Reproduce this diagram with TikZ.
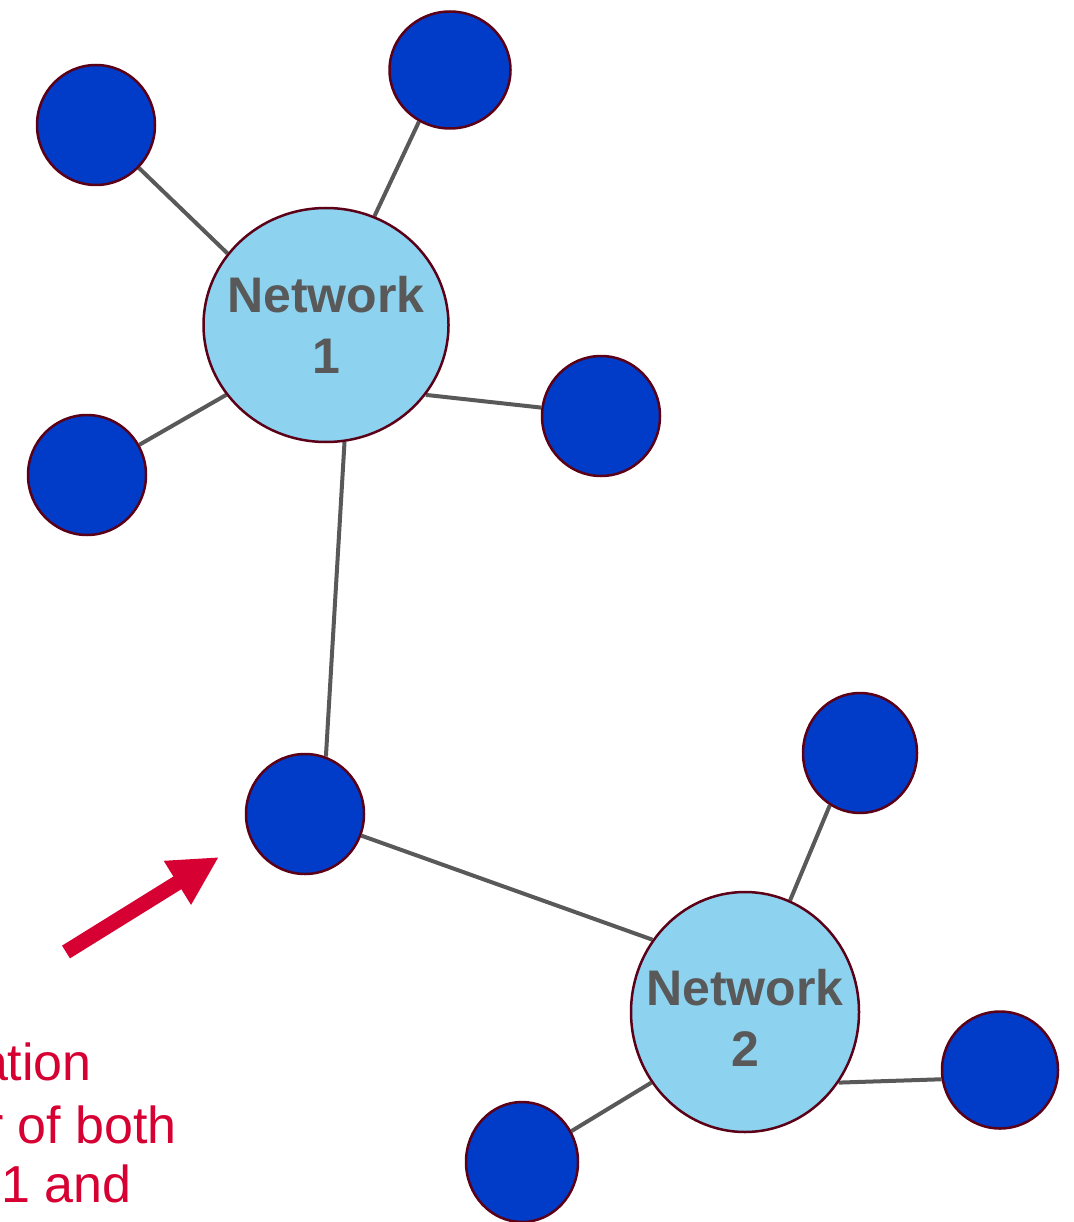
\documentclass[tikz,border=0pt]{standalone}
\usepackage{fontspec}
\setmainfont{Liberation Sans}
\usetikzlibrary{shapes.geometric,arrows.meta,backgrounds}
\definecolor{devblue}{HTML}{003CC8}
\definecolor{netblue}{HTML}{8DD3EF}
\definecolor{rim}{HTML}{5C0018}
\definecolor{wire}{HTML}{595959}
\definecolor{callout}{HTML}{D60032}
\tikzset{
  netnode/.style={ellipse, draw=rim, line width=2.5pt, fill=netblue, inner sep=0pt},
  netlabel/.style={font=\bfseries\fontsize{50}{61}\selectfont, text=wire, align=center, inner sep=0pt},
  devnode/.style={ellipse, draw=rim, line width=2.5pt, fill=devblue, inner sep=0pt,
    minimum width=118pt, minimum height=120pt},
  link/.style={draw=wire, line width=4pt},
  note/.style={font=\fontsize{52}{61}\selectfont, text=callout, inner sep=0pt, anchor=base east},
}
\begin{document}
\begin{tikzpicture}[x=1pt,y=-1pt]
\useasboundingbox (0,0) rectangle (1073,1222);

% network hubs
\node[netnode, minimum width=245pt, minimum height=234pt,
  label={[netlabel]center:Network\\1}] (n1) at (326,325) {};
\node[netnode, minimum width=228pt, minimum height=240pt,
  label={[netlabel,yshift=-6pt]center:Network\\2}] (n2) at (745,1012) {};

% stations
\node[devnode] (a) at (96,125) {};
\node[devnode, minimum width=121pt, minimum height=117pt] (b) at (450,70) {};
\node[devnode] (c) at (87,475) {};
\node[devnode] (d) at (601,416) {};
\node[devnode] (e) at (305,814) {};
\node[devnode, minimum width=114pt] (f) at (860,753) {};
\node[devnode, minimum width=116pt, minimum height=117pt] (g) at (1000,1070) {};
\node[devnode, minimum width=112pt] (h) at (522,1162) {};

% links
\begin{scope}[on background layer]
  \draw[link] (n1.144.8) -- (a.-45);
  \draw[link] (n1.66.7) -- (b.-121);
  \draw[link] (n1.215.9) -- (c.30.8);
  \draw[link] (n1.-35.3) -- (d.172);
  \draw[link] (n1.-81.3) -- (e.70.7);
  \draw[link] (e.-21) -- (n2.142.5);
  \draw[link] (n2.68.2) -- (f.-120.6);
  \draw[link] (n2.-37.3) -- (g.189);
  \draw[link] (n2.217) -- (h.32);
\end{scope}

% pointer to the shared station
\coordinate (tail) at (66,952);
\coordinate (tip) at (219,857);
\draw[callout, line width=15pt, -{Triangle[length=49pt,width=48pt]}] (tail) -- (tip);

% caption, running off the left edge
\node[note] (t1) at (92,1080) {ation};
\node[note] (t2) at (177,1143) {r of both};
\node[note] (t3) at (132,1202) {1 and};
\end{tikzpicture}
\end{document}
